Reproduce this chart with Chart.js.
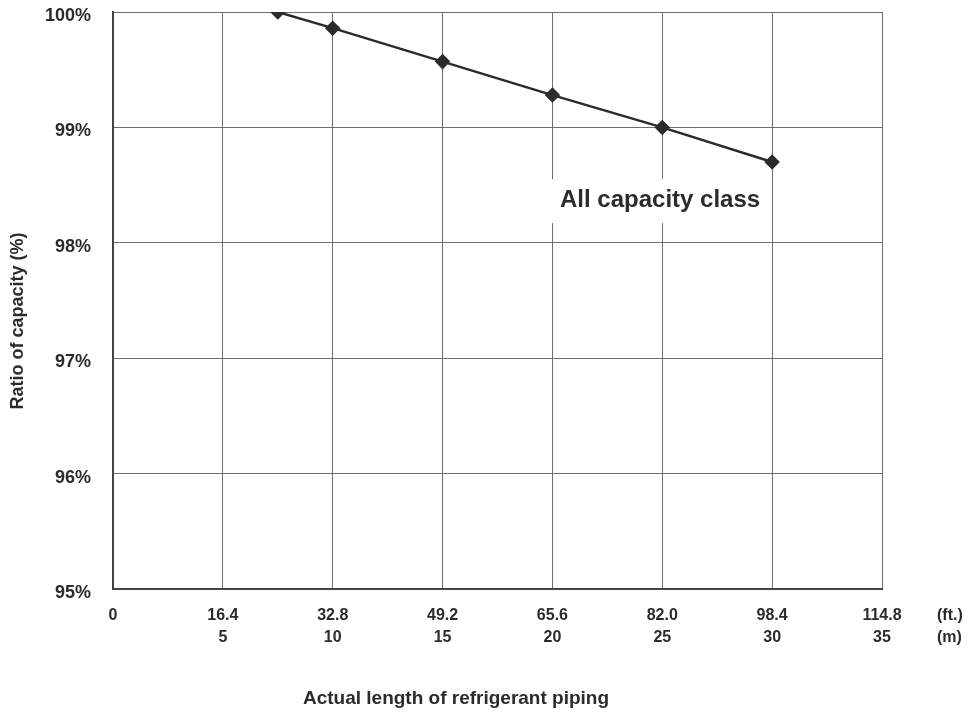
<!DOCTYPE html>
<html>
<head>
<meta charset="utf-8">
<script src="https://cdn.jsdelivr.net/npm/chart.js@4/dist/chart.umd.min.js"></script>
<style>
  html, body { margin: 0; padding: 0; background: #fff; }
  #wrap { width: 970px; height: 712px; position: relative; }
</style>
</head>
<body>
<div id="wrap"><canvas id="chart"></canvas></div>
<script>
// piping length (m) vs ratio of capacity (%)
const lengthM = [7.5, 10, 15, 20, 25, 30];
const capacity = [100.0, 99.86, 99.57, 99.28, 99.0, 98.7];

// x tick labels: feet on the first line, metres on the second
const tickM = [0, 5, 10, 15, 20, 25, 30, 35];
const tickFt = ['0', '16.4', '32.8', '49.2', '65.6', '82.0', '98.4', '114.8'];
const yTicks = [95, 96, 97, 98, 99, 100];

const seriesLabel = 'All capacity class';
const xTitle = 'Actual length of refrigerant piping';
const yTitle = 'Ratio of capacity (%)';

const FONT = "'Liberation Sans', Arial, sans-serif";
const INK = '#2b2b2b';

// extra text: axis titles, units, series label box
const decorations = {
  id: 'decorations',
  afterDraw(chart) {
    const c = chart.ctx;
    const x = chart.scales.x;
    const y = chart.scales.y;
    c.save();

    // series label with white box covering the grid
    c.font = 'bold 24px ' + FONT;
    c.textAlign = 'center';
    c.textBaseline = 'middle';
    const lx = x.getPixelForValue(24.9);
    const ly = y.getPixelForValue(98.37);
    const w = c.measureText(seriesLabel).width;
    c.fillStyle = '#fff';
    c.fillRect(lx - w / 2 - 18, ly - 21, w + 26, 44);
    c.fillStyle = INK;
    c.fillText(seriesLabel, lx, ly);

    // units at the right end of the x axis
    c.font = 'bold 16px ' + FONT;
    c.textAlign = 'left';
    c.fillText('(ft.)', 937, 616);
    c.fillText('(m)', 937, 638);

    // x axis title
    c.font = 'bold 19px ' + FONT;
    c.textAlign = 'center';
    c.fillText(xTitle, 456, 699);

    // y axis title
    c.font = 'bold 18px ' + FONT;
    c.translate(18, 321);
    c.rotate(-Math.PI / 2);
    c.fillText(yTitle, 0, 0);
    c.restore();
  }
};

new Chart(document.getElementById('chart'), {
  type: 'line',
  data: {
    datasets: [{
      label: seriesLabel,
      data: lengthM.map((m, i) => ({ x: m, y: capacity[i] })),
      borderColor: INK,
      backgroundColor: INK,
      borderWidth: 2.5,
      pointStyle: 'rectRot',
      pointRadius: 6,
      pointHoverRadius: 6,
      fill: false,
      tension: 0
    }]
  },
  options: {
    responsive: true,
    maintainAspectRatio: false,
    animation: false,
    layout: {
      padding: { left: 0, top: 12, right: 88, bottom: 0 }
    },
    plugins: {
      legend: { display: false },
      tooltip: { enabled: false }
    },
    scales: {
      x: {
        type: 'linear',
        min: 0,
        max: 35,
        afterBuildTicks: (scale) => {
          scale.ticks = tickM.map(v => ({ value: v }));
        },
        afterFit: (scale) => {
          scale.height = 123;
          scale.paddingLeft = 0;
          scale.paddingRight = 0;
        },
        grid: {
          color: '#6e6e6e',
          lineWidth: 1,
          drawTicks: false
        },
        border: { color: '#444', width: 2 },
        ticks: {
          padding: 16,
          maxRotation: 0,
          autoSkip: false,
          color: INK,
          font: { family: FONT, size: 16, weight: 'bold', lineHeight: 1.35 },
          callback: (v) => {
            const i = tickM.indexOf(v);
            if (i < 0) return '';
            return v === 0 ? [tickFt[i], ''] : [tickFt[i], String(v)];
          }
        }
      },
      y: {
        type: 'linear',
        min: 95,
        max: 100,
        afterBuildTicks: (scale) => {
          scale.ticks = yTicks.map(v => ({ value: v }));
        },
        afterFit: (scale) => {
          scale.width = 113;
          scale.paddingTop = 0;
          scale.paddingBottom = 0;
        },
        grid: {
          color: '#6e6e6e',
          lineWidth: 1,
          drawTicks: false
        },
        border: { color: '#444', width: 2 },
        ticks: {
          padding: 22,
          labelOffset: 4,
          color: INK,
          font: { family: FONT, size: 18, weight: 'bold' },
          callback: (v) => v + '%'
        }
      }
    }
  },
  plugins: [decorations]
});
</script>
</body>
</html>
